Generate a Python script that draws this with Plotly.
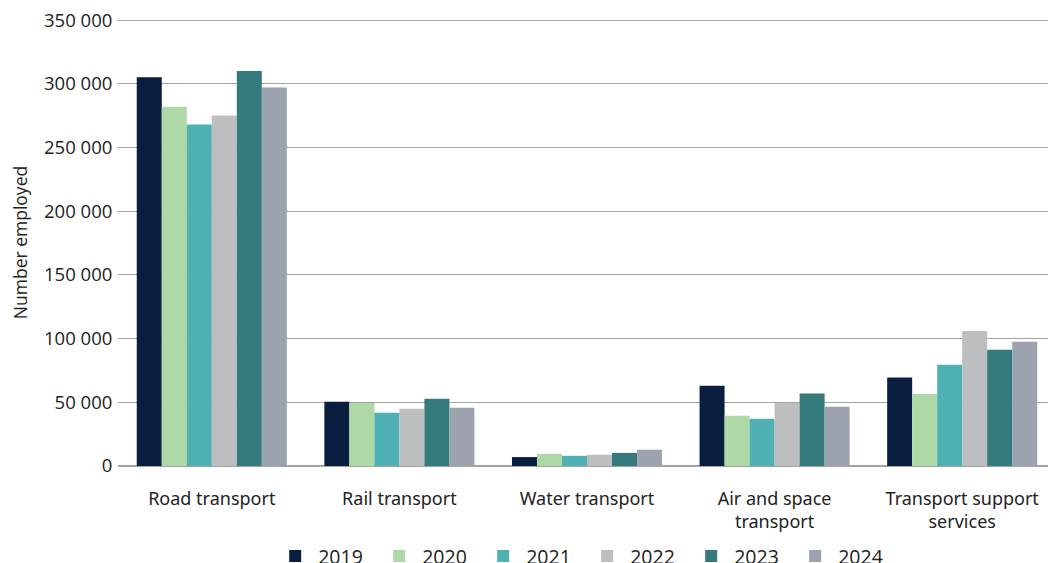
import plotly.graph_objects as go

categories = ["Road transport", "Rail transport", "Water transport",
              "Air and space<br>transport", "Transport support<br>services"]
years = ["2019", "2020", "2021", "2022", "2023", "2024"]
values = {
    "2019": [305000, 50500, 7000, 63000, 69500],
    "2020": [282000, 49500, 9500, 39500, 56500],
    "2021": [268000, 41800, 8000, 37000, 79500],
    "2022": [275000, 45000, 8800, 49500, 106000],
    "2023": [310000, 52800, 10300, 56800, 91200],
    "2024": [297000, 45800, 12800, 46500, 97500],
}
colors = ["#0A1F40", "#AED8A6", "#50B1B5", "#BDBEC0", "#357B7E", "#9CA3AF"]
yticks = [0, 50000, 100000, 150000, 200000, 250000, 300000, 350000]

fig = go.Figure()
for y, c in zip(years, colors):
    fig.add_trace(go.Bar(name=y, x=categories, y=values[y], marker_color=c,
                         marker_line_width=0))

fig.update_layout(
    width=1048, height=555,
    margin=dict(l=110, r=0, t=11, b=97, autoexpand=False),
    plot_bgcolor="white", paper_bgcolor="white",
    barmode="group", bargap=0.2, bargroupgap=0,
    separators=", ",
    font=dict(family="Open Sans, sans-serif", size=18, color="#222222"),
    legend=dict(orientation="h", x=0.497, xanchor="center", y=-0.202, yanchor="middle",
                font=dict(size=19.5, family="Open Sans, sans-serif", color="#222222"),
                itemwidth=36, traceorder="normal", entrywidth=53, entrywidthmode="pixels"),
    showlegend=True,
)
fig.update_xaxes(tickfont=dict(family="Noto Sans, sans-serif", size=18, color="#222222"),
                 showline=False, ticks="", automargin=False, ticklabelstandoff=20)
fig.update_yaxes(range=[0, 350800], tickvals=yticks, tickformat=",d",
                 showgrid=True, gridcolor="#a3a3a3", gridwidth=1,
                 zeroline=True, zerolinecolor="#a3a3a3", zerolinewidth=2,
                 ticks="outside", ticklen=1, tickcolor="white",
                 ticklabeloverflow="allow",
                 tickfont=dict(size=18.5, color="#222222", family="Open Sans, sans-serif"),
                 automargin=False,
                 title=dict(text="Number employed", font=dict(size=17.5, color="#222222"), standoff=21))

fig.write_html("out.html")
